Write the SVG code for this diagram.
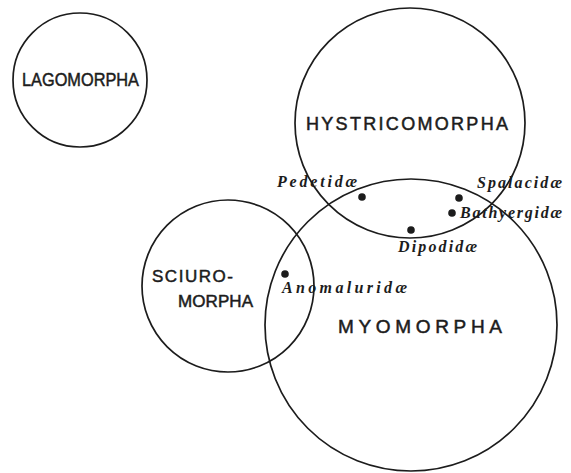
<svg xmlns="http://www.w3.org/2000/svg" width="571" height="473" viewBox="0 0 571 473">
<style>
.c{fill:none;stroke:#1c1c1c;stroke-width:1.7}
.t{font-family:"Liberation Sans",Arial,sans-serif;fill:#1c1c1c;stroke:#1c1c1c;stroke-width:0.5}
.f{font-family:"Liberation Serif","Times New Roman",serif;font-style:italic;font-weight:bold;fill:#1c1c1c;font-size:16px}
.d{fill:#1c1c1c}
</style>
<rect width="571" height="473" fill="#ffffff"/>
<g id="lagomorpha">
<circle class="c" cx="80" cy="80" r="67"/>
<text class="t" x="22" y="86" font-size="19" textLength="117" lengthAdjust="spacingAndGlyphs">LAGOMORPHA</text>
</g>
<g id="hystricomorpha">
<circle class="c" cx="410" cy="123" r="115"/>
<text class="t" x="306" y="130" font-size="18" textLength="202" lengthAdjust="spacing">HYSTRICOMORPHA</text>
</g>
<g id="myomorpha">
<circle class="c" cx="411" cy="325" r="146"/>
<text class="t" x="338" y="333" font-size="19" textLength="164" lengthAdjust="spacing">MYOMORPHA</text>
</g>
<g id="sciuromorpha">
<circle class="c" cx="228" cy="286" r="86"/>
<text class="t" x="152" y="282" font-size="17" textLength="81" lengthAdjust="spacing">SCIURO-</text>
<text class="t" x="178" y="307" font-size="17" textLength="75" lengthAdjust="spacing">MORPHA</text>
</g>
<g id="pedetidae">
<circle class="d" cx="362" cy="197" r="3.8"/>
<text class="f" x="277" y="187" textLength="80" lengthAdjust="spacing">Pedetidæ</text>
</g>
<g id="spalacidae">
<circle class="d" cx="459" cy="198" r="3.8"/>
<text class="f" x="477" y="188" textLength="85" lengthAdjust="spacing">Spalacidæ</text>
</g>
<g id="bathyergidae">
<circle class="d" cx="452" cy="213" r="3.8"/>
<text class="f" x="460" y="218" textLength="102" lengthAdjust="spacing">Bathyergidæ</text>
</g>
<g id="dipodidae">
<circle class="d" cx="411" cy="230" r="3.8"/>
<text class="f" x="398" y="252" textLength="79" lengthAdjust="spacing">Dipodidæ</text>
</g>
<g id="anomaluridae">
<circle class="d" cx="285" cy="274" r="3.8"/>
<text class="f" x="282" y="293" textLength="125" lengthAdjust="spacing">Anomaluridæ</text>
</g>
</svg>
